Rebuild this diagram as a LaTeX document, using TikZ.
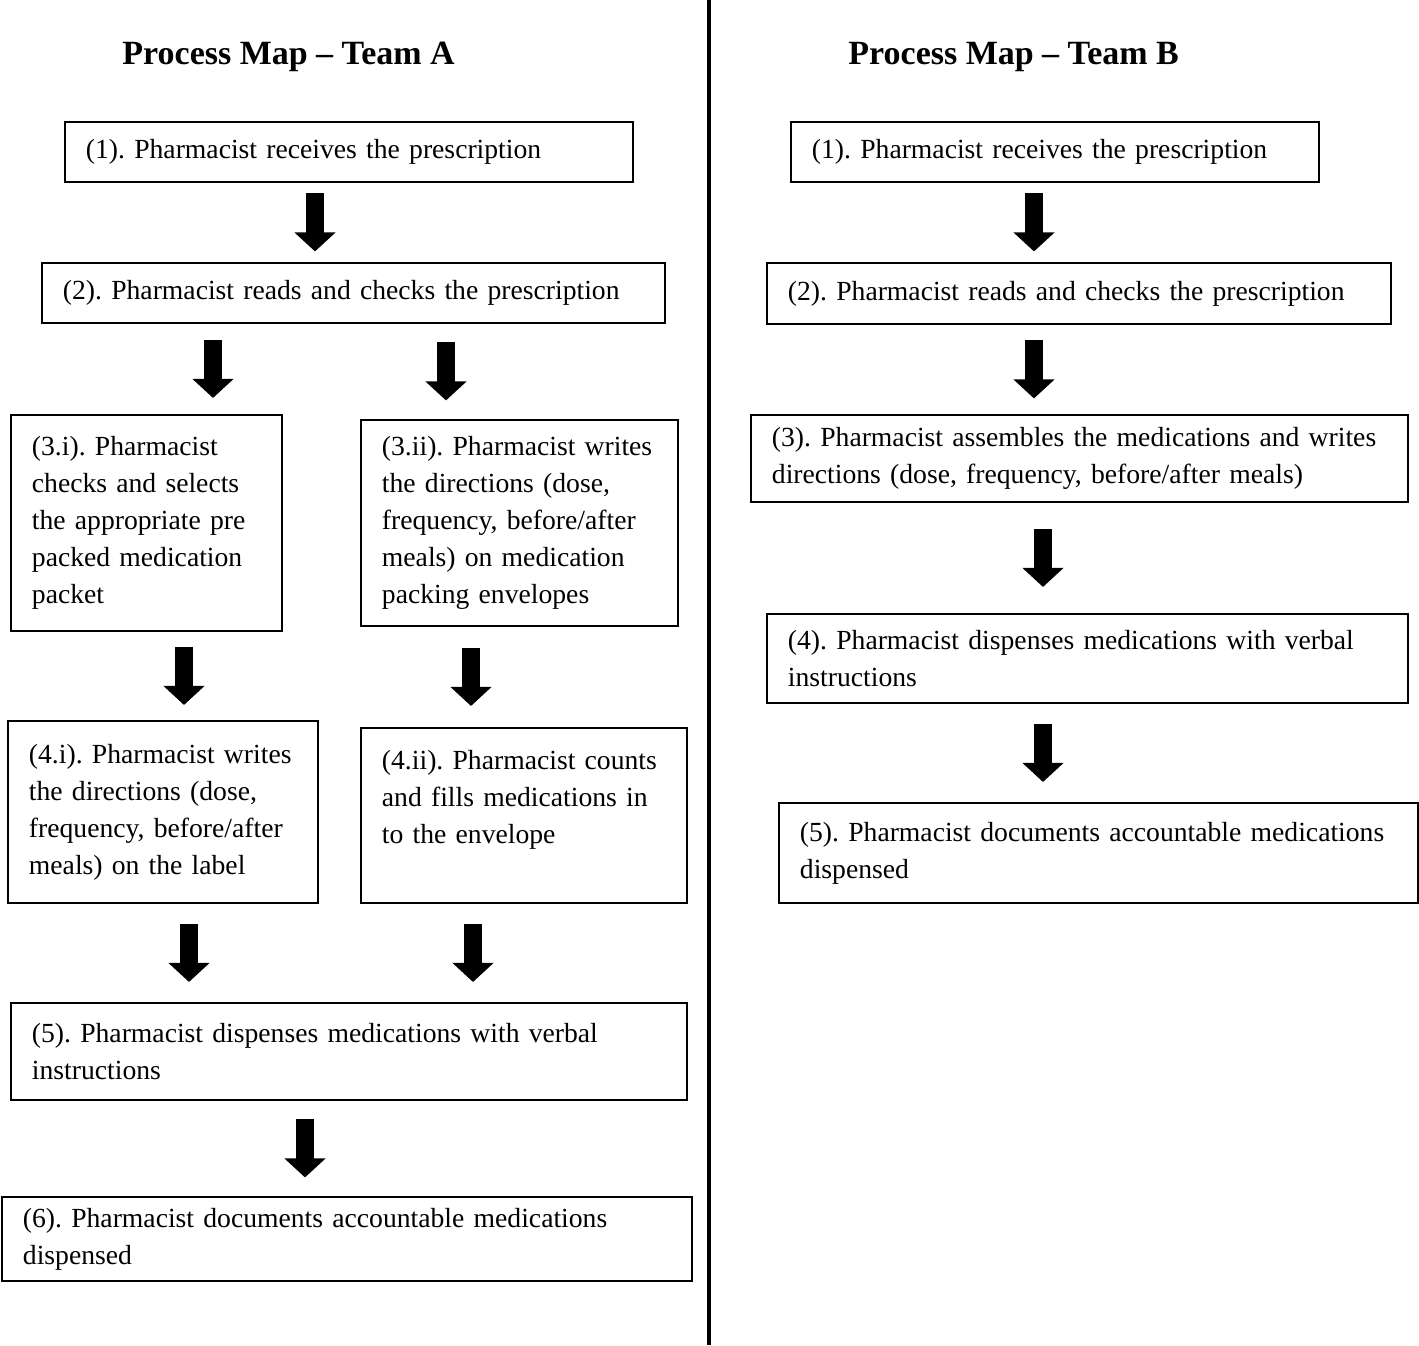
\documentclass[tikz,border=0pt]{standalone}
\usepackage{fontspec}
\setmainfont{Liberation Serif}
\usetikzlibrary{arrows.meta,calc}
\frenchspacing

\begin{document}
\begin{tikzpicture}[x=0.015cm,y=-0.015cm,
  procbox/.style={draw,line width=0.8pt,anchor=north west,align=left,inner xsep=0.315cm,inner ysep=0pt,font=\fontsize{11.8}{15.8}\selectfont},
  maptitle/.style={anchor=base west,inner sep=0pt,font=\fontsize{14.5}{17}\selectfont\bfseries},
  bigarrow/.style={line width=0.27cm,-{Triangle[width=0.6cm,length=0.285cm]}}]
\useasboundingbox (0,0) rectangle (1419,1345);
\draw[line width=1.3pt] (709,0) -- (709,1345);

\node[maptitle] (ta) at (122,64) {Process Map -- Team A};
\node[maptitle] (tb) at (848,64) {Process Map -- Team B};

% team A
\node[procbox,text width=7.89cm,minimum height=0.9cm] (a1) at (64,121) {(1). Pharmacist receives the prescription};
\node[procbox,text width=8.715cm,minimum height=0.9cm] (a2) at (41,262) {(2). Pharmacist reads and checks the prescription};
\node[procbox,text width=3.435cm,minimum height=3.24cm] (a3i) at (10,414) {(3.i). Pharmacist\\ checks and selects\\ the appropriate pre\\ packed medication\\ packet};
\node[procbox,text width=4.125cm,minimum height=3.09cm] (a3ii) at (360,419) {(3.ii). Pharmacist writes\\ the directions (dose,\\ frequency, before/after\\ meals) on medication\\ packing envelopes};
\node[procbox,text width=4.02cm,minimum height=2.73cm] (a4i) at (7,720) {(4.i). Pharmacist writes\\ the directions (dose,\\ frequency, before/after\\ meals) on the label};
\node[procbox,text width=4.26cm,minimum height=2.625cm] (a4ii) at (360,727) {(4.ii). Pharmacist counts\\ and fills medications in\\ to the envelope\\ \mbox{}};
\node[procbox,text width=9.51cm,minimum height=1.455cm] (a5) at (10,1002) {(5). Pharmacist dispenses medications with verbal\\ instructions};
\node[procbox,text width=9.72cm,minimum height=1.26cm] (a6) at (1,1196) {(6). Pharmacist documents accountable medications\\ dispensed};

% team B
\node[procbox,text width=7.29cm,minimum height=0.9cm] (b1) at (790,121) {(1). Pharmacist receives the prescription};
\node[procbox,text width=8.73cm,minimum height=0.915cm] (b2) at (766,262) {(2). Pharmacist reads and checks the prescription};
\node[procbox,text width=9.225cm,minimum height=1.305cm] (b3) at (750,414) {(3). Pharmacist assembles the medications and writes\\ directions (dose, frequency, before/after meals)};
\node[procbox,text width=8.985cm,minimum height=1.335cm] (b4) at (766,613) {(4). Pharmacist dispenses medications with verbal\\ instructions};
\node[procbox,text width=8.955cm,minimum height=1.5cm] (b5) at (778,802) {(5). Pharmacist documents accountable medications\\ dispensed};

\foreach \from/\to/\x in {a1/a2/315, a2/a3i/213, a2/a3ii/446, a3i/a4i/184, a3ii/a4ii/471, a4i/a5/189, a4ii/a5/473, a5/a6/305, b1/b2/1034, b2/b3/1034, b3/b4/1043, b4/b5/1043}
  \draw[bigarrow] ($(\from.south -| \x,0)!.5!(\to.north -| \x,0)+(0,-29)$) -- ++(0,58);
\end{tikzpicture}
\end{document}
